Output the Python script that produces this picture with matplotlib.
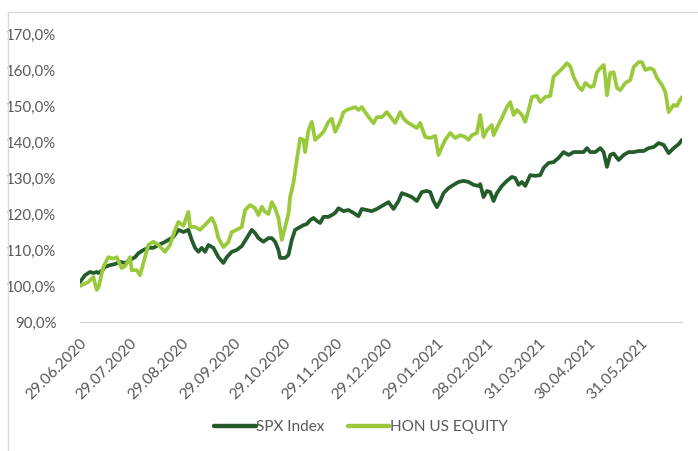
import matplotlib
matplotlib.use("Agg")
import matplotlib.pyplot as plt
import matplotlib.ticker as mticker
from matplotlib.patches import Rectangle
import pandas as pd

series_names = ["SPX Index", "HON US EQUITY"]

spx_dates = [
    "2020-06-29", "2020-07-02", "2020-07-05", "2020-07-07", "2020-07-09", "2020-07-10",
    "2020-07-12", "2020-07-14", "2020-07-17", "2020-07-20", "2020-07-23", "2020-07-26",
    "2020-07-29", "2020-08-01", "2020-08-03", "2020-08-06", "2020-08-09", "2020-08-12",
    "2020-08-15", "2020-08-18", "2020-08-21", "2020-08-24", "2020-08-27", "2020-08-30",
    "2020-09-02", "2020-09-04", "2020-09-06", "2020-09-08", "2020-09-10", "2020-09-12",
    "2020-09-14", "2020-09-17", "2020-09-20", "2020-09-23", "2020-09-25", "2020-09-28",
    "2020-10-01", "2020-10-04", "2020-10-07", "2020-10-10", "2020-10-12", "2020-10-14",
    "2020-10-17", "2020-10-20", "2020-10-22", "2020-10-24", "2020-10-26", "2020-10-27",
    "2020-10-30", "2020-11-01", "2020-11-03", "2020-11-05", "2020-11-08", "2020-11-10",
    "2020-11-12", "2020-11-14", "2020-11-16", "2020-11-18", "2020-11-20", "2020-11-22",
    "2020-11-25", "2020-11-27", "2020-11-29", "2020-12-01", "2020-12-04", "2020-12-07",
    "2020-12-10", "2020-12-13", "2020-12-15", "2020-12-18", "2020-12-21", "2020-12-24",
    "2020-12-28", "2020-12-31", "2021-01-03", "2021-01-06", "2021-01-08", "2021-01-11",
    "2021-01-14", "2021-01-17", "2021-01-20", "2021-01-23", "2021-01-25", "2021-01-27",
    "2021-01-29", "2021-01-31", "2021-02-02", "2021-02-05", "2021-02-08", "2021-02-11",
    "2021-02-14", "2021-02-17", "2021-02-20", "2021-02-23", "2021-02-24", "2021-02-26",
    "2021-02-28", "2021-03-02", "2021-03-04", "2021-03-06", "2021-03-09", "2021-03-12",
    "2021-03-15", "2021-03-17", "2021-03-19", "2021-03-21", "2021-03-23", "2021-03-26",
    "2021-03-29", "2021-04-01", "2021-04-03", "2021-04-06", "2021-04-09", "2021-04-12",
    "2021-04-15", "2021-04-18", "2021-04-21", "2021-04-24", "2021-04-27", "2021-04-29",
    "2021-05-01", "2021-05-04", "2021-05-07", "2021-05-09", "2021-05-11", "2021-05-13",
    "2021-05-15", "2021-05-18", "2021-05-21", "2021-05-24", "2021-05-27", "2021-05-30",
    "2021-06-02", "2021-06-05", "2021-06-08", "2021-06-11", "2021-06-14", "2021-06-17",
    "2021-06-20", "2021-06-23", "2021-06-25",
]
spx_values = [
    101.1, 103.0, 103.9, 103.6, 103.9, 103.6,
    104.2, 105.3, 105.8, 106.1, 106.7, 106.4,
    107.2, 108.0, 109.1, 110.0, 110.6, 110.6,
    111.4, 112.0, 112.8, 113.6, 115.6, 115.0,
    115.6, 112.8, 110.6, 109.5, 110.6, 109.5,
    111.4, 110.6, 108.0, 106.4, 108.0, 109.5,
    110.0, 111.1, 113.3, 115.6, 114.7, 113.3,
    112.3, 113.3, 113.3, 112.3, 110.0, 107.8,
    107.8, 108.6, 112.8, 115.6, 116.4, 116.9,
    117.2, 118.3, 118.9, 118.1, 117.5, 119.2,
    119.2, 119.7, 120.3, 121.6, 120.8, 121.1,
    120.3, 119.4, 121.4, 121.1, 120.8, 121.4,
    122.5, 123.3, 121.4, 123.6, 125.8, 125.3,
    124.7, 123.6, 126.1, 126.4, 126.1, 123.6,
    121.9, 123.6, 125.8, 127.2, 128.1, 128.9,
    129.2, 128.9, 128.1, 127.8, 128.3, 124.7,
    126.4, 126.1, 123.6, 125.8, 127.8, 129.2,
    130.3, 130.0, 128.1, 128.9, 127.8, 130.8,
    130.6, 130.8, 132.8, 134.2, 134.4, 135.6,
    137.2, 136.4, 137.2, 137.2, 137.2, 138.3,
    137.2, 137.2, 138.3, 137.2, 133.1, 136.4,
    136.8, 135.0, 136.4, 137.2, 137.2, 137.5,
    137.5, 138.3, 138.6, 139.7, 139.2, 136.9,
    138.3, 139.4, 140.6,
]

hon_dates = [
    "2020-06-29", "2020-07-04", "2020-07-07", "2020-07-09", "2020-07-10", "2020-07-13",
    "2020-07-16", "2020-07-19", "2020-07-21", "2020-07-24", "2020-07-26", "2020-07-29",
    "2020-07-30", "2020-08-02", "2020-08-04", "2020-08-07", "2020-08-09", "2020-08-12",
    "2020-08-15", "2020-08-19", "2020-08-22", "2020-08-25", "2020-08-27", "2020-08-30",
    "2020-09-02", "2020-09-03", "2020-09-06", "2020-09-09", "2020-09-13", "2020-09-16",
    "2020-09-18", "2020-09-20", "2020-09-23", "2020-09-26", "2020-09-28", "2020-10-01",
    "2020-10-04", "2020-10-06", "2020-10-09", "2020-10-12", "2020-10-14", "2020-10-16",
    "2020-10-18", "2020-10-20", "2020-10-22", "2020-10-24", "2020-10-26", "2020-10-28",
    "2020-10-30", "2020-11-01", "2020-11-02", "2020-11-04", "2020-11-06", "2020-11-08",
    "2020-11-10", "2020-11-11", "2020-11-13", "2020-11-15", "2020-11-17", "2020-11-19",
    "2020-11-22", "2020-11-25", "2020-11-27", "2020-11-29", "2020-12-02", "2020-12-04",
    "2020-12-06", "2020-12-11", "2020-12-13", "2020-12-15", "2020-12-17", "2020-12-19",
    "2020-12-22", "2020-12-24", "2020-12-27", "2020-12-30", "2021-01-02", "2021-01-04",
    "2021-01-07", "2021-01-09", "2021-01-11", "2021-01-14", "2021-01-17", "2021-01-19",
    "2021-01-22", "2021-01-25", "2021-01-28", "2021-01-30", "2021-02-01", "2021-02-03",
    "2021-02-06", "2021-02-09", "2021-02-12", "2021-02-15", "2021-02-17", "2021-02-19",
    "2021-02-22", "2021-02-24", "2021-02-26", "2021-02-28", "2021-03-03", "2021-03-04",
    "2021-03-06", "2021-03-09", "2021-03-12", "2021-03-14", "2021-03-16", "2021-03-18",
    "2021-03-21", "2021-03-23", "2021-03-25", "2021-03-27", "2021-03-30", "2021-04-01",
    "2021-04-04", "2021-04-07", "2021-04-09", "2021-04-12", "2021-04-15", "2021-04-17",
    "2021-04-19", "2021-04-21", "2021-04-24", "2021-04-26", "2021-04-28", "2021-05-01",
    "2021-05-03", "2021-05-05", "2021-05-07", "2021-05-09", "2021-05-10", "2021-05-11",
    "2021-05-13", "2021-05-15", "2021-05-17", "2021-05-19", "2021-05-22", "2021-05-25",
    "2021-05-27", "2021-05-30", "2021-06-01", "2021-06-03", "2021-06-06", "2021-06-08",
    "2021-06-10", "2021-06-13", "2021-06-15", "2021-06-17", "2021-06-20", "2021-06-22",
    "2021-06-23", "2021-06-25",
]
hon_values = [
    100.0, 101.1, 102.5, 98.9, 99.5, 105.3,
    108.0, 107.6, 108.0, 105.0, 105.5, 108.0,
    104.4, 104.4, 103.0, 108.0, 111.4, 112.3,
    111.4, 109.5, 111.4, 115.6, 117.8, 116.7,
    120.6, 116.4, 116.4, 115.6, 117.5, 118.9,
    117.0, 113.3, 110.8, 112.2, 115.0, 115.6,
    116.4, 121.1, 122.5, 121.6, 119.7, 122.0,
    120.6, 120.0, 123.3, 121.6, 118.9, 112.8,
    116.4, 120.0, 124.7, 128.6, 135.0, 141.0,
    140.6, 137.2, 143.3, 145.6, 140.6, 141.4,
    142.8, 145.6, 146.5, 142.8, 145.6, 148.3,
    148.9, 149.7, 148.9, 149.7, 148.3, 147.0,
    145.2, 146.9, 146.9, 148.3, 146.5, 145.3,
    148.3, 146.5, 145.6, 144.7, 143.9, 145.3,
    141.4, 141.1, 141.7, 136.4, 138.6, 140.6,
    142.5, 141.1, 141.9, 141.4, 140.6, 141.9,
    142.5, 147.5, 141.4, 143.3, 144.7, 141.9,
    143.9, 146.7, 149.7, 151.1, 147.5, 148.9,
    147.5, 145.6, 148.9, 152.5, 152.8, 151.1,
    152.5, 152.8, 158.1, 159.4, 160.8, 161.9,
    161.0, 158.1, 155.3, 154.4, 156.4, 155.3,
    155.5, 159.4, 160.5, 161.4, 158.1, 153.0,
    159.2, 159.4, 155.0, 154.4, 156.4, 157.2,
    160.8, 162.2, 162.2, 160.0, 160.5, 160.0,
    157.8, 155.8, 153.9, 148.3, 150.3, 150.0,
    151.0, 152.5,
]

tick_dates = [
    "2020-06-29", "2020-07-29", "2020-08-29", "2020-09-29", "2020-10-29", "2020-11-29",
    "2020-12-29", "2021-01-29", "2021-02-28", "2021-03-31", "2021-04-30", "2021-05-31",
]
tick_labels = [
    "29.06.2020", "29.07.2020", "29.08.2020", "29.09.2020", "29.10.2020", "29.11.2020",
    "29.12.2020", "29.01.2021", "28.02.2021", "31.03.2021", "30.04.2021", "31.05.2021",
]
y_ticks = [90, 100, 110, 120, 130, 140, 150, 160, 170]

plt.rcParams["font.family"] = ["Lato", "DejaVu Sans"]
text_color = "#595959"
spx_color = "#245c2b"
hon_color = "#9aca3c"

fig = plt.figure(figsize=(6.98, 4.51), dpi=100)
W, H = 698, 451
ax = fig.add_axes([80 / W, 1 - 322 / H, (682 - 80) / W, (322 - 34) / H])

ax.plot(pd.to_datetime(spx_dates), spx_values, color=spx_color, lw=2.7,
        solid_joinstyle="round", solid_capstyle="round", label=series_names[0], zorder=3)
ax.plot(pd.to_datetime(hon_dates), hon_values, color=hon_color, lw=2.7,
        solid_joinstyle="round", solid_capstyle="round", label=series_names[1], zorder=4)

ax.set_ylim(90, 170)
ax.set_yticks(y_ticks)
ax.yaxis.set_major_formatter(mticker.FuncFormatter(lambda v, p: f"{v:.1f}".replace(".", ",") + "%"))
ax.set_xlim(pd.Timestamp(spx_dates[0]), pd.Timestamp(spx_dates[-1]))
ax.set_xticks(pd.to_datetime(tick_dates))
ax.set_xticklabels(tick_labels, rotation=45, ha="right", va="top", rotation_mode="anchor",
                   fontsize=11.2)

ax.tick_params(axis="both", length=0, colors=text_color)
ax.tick_params(axis="y", pad=17, labelsize=10.8)
ax.tick_params(axis="x", pad=10)
for s in ["top", "right", "left"]:
    ax.spines[s].set_visible(False)
ax.spines["bottom"].set_color("#d9d9d9")
ax.spines["bottom"].set_linewidth(1.0)

leg = fig.legend(loc="center", bbox_to_anchor=(361 / W, 1 - 427 / H), ncol=2, frameon=False,
                 handlelength=2.7, handletextpad=0.05, columnspacing=1.5, fontsize=11)
for t in leg.get_texts():
    t.set_color(text_color)
for l in leg.get_lines():
    l.set_linewidth(3.2)

fig.patches.append(Rectangle((8 / W, -0.05), 1.2, 1 - 12 / H + 0.05, transform=fig.transFigure,
                             fill=False, edgecolor="#d9d9d9", lw=1.0, zorder=0))

fig.savefig("out.png", dpi=100)
